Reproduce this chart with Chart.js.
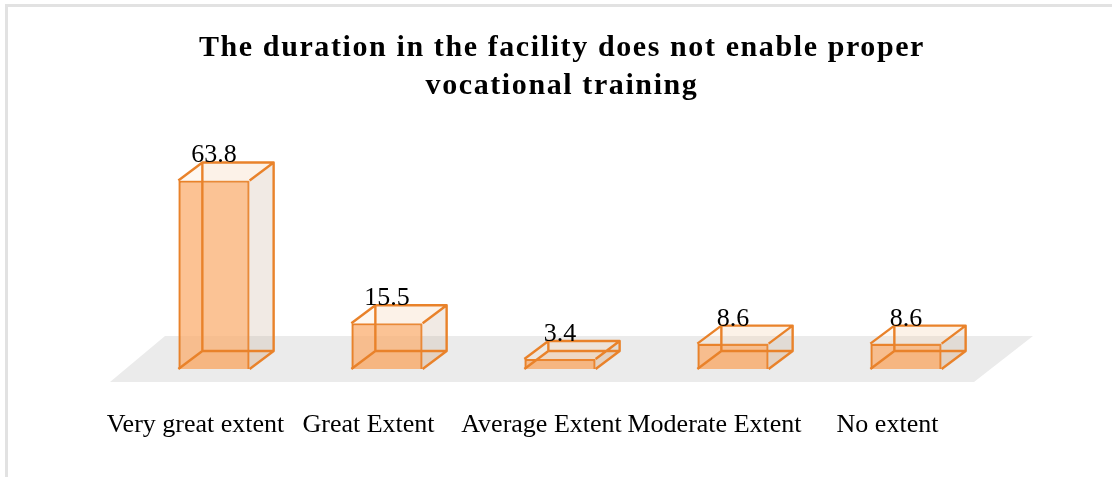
<!DOCTYPE html>
<html>
<head>
<meta charset="utf-8">
<script src="https://cdn.jsdelivr.net/npm/chart.js@4"></script>
<style>
html,body{margin:0;padding:0;background:#fff;overflow:hidden}
#wrap{position:absolute;left:0;top:0;width:1112px;height:477px}
#frameTop{position:absolute;left:5px;top:4px;width:1107px;height:3px;background:#e2e2e2}
#frameLeft{position:absolute;left:5px;top:4px;width:3px;height:473px;background:#e2e2e2}
</style>
</head>
<body>
<div id="wrap">
<canvas id="c" width="1112" height="477" style="display:block;width:1112px;height:477px;filter:blur(0.4px)"></canvas>
<div id="frameTop"></div><div id="frameLeft"></div>
</div>
<script>
const titleLines = ["The duration in the facility does not enable proper", "vocational training"];
const categories = ["Very great extent", "Great Extent", "Average Extent", "Moderate Extent", "No extent"];
const values = [63.8, 15.5, 3.4, 8.6, 8.6];
const valueLabels = ["63.8", "15.5", "3.4", "8.6", "8.6"];

const DX = 24, DY = -18;
const EDGE = "#E9822A";
const FONT = "'Liberation Serif', serif";

function poly(ctx, pts, fill, stroke) {
  ctx.beginPath();
  pts.forEach((p, i) => i ? ctx.lineTo(p[0], p[1]) : ctx.moveTo(p[0], p[1]));
  ctx.closePath();
  if (fill) { ctx.fillStyle = fill; ctx.fill(); }
  if (stroke) { ctx.strokeStyle = stroke; ctx.stroke(); }
}

const spacing = {
  id: "spacing",
  beforeDraw(chart) {
    const block = chart.titleBlock;
    if (!block || block._spaced) return;
    const draw = block.draw;
    block.draw = function (area) {
      const ctx = chart.ctx;
      ctx.save();
      ctx.letterSpacing = "1.6px";
      ctx.translate(2, 0);
      draw.call(this, area);
      ctx.restore();
      ctx.letterSpacing = "0px";
    };
    block._spaced = true;
  }
};

const floor = {
  id: "floor",
  beforeDatasetsDraw(chart) {
    const a = chart.chartArea, y0 = chart.scales.y.getPixelForValue(0);
    poly(chart.ctx, [
      [a.left - 17.5, y0 + 13],
      [a.right - 18.5, y0 + 13],
      [a.right + 40.5, y0 - 33],
      [a.left + 37.5, y0 - 33]
    ], "#ebebeb");
  }
};

const box3d = {
  id: "box3d",
  afterDatasetsDraw(chart) {
    const ctx = chart.ctx;
    const bars = chart.getDatasetMeta(0).data;
    ctx.save();
    ctx.lineWidth = 2.4;
    ctx.lineJoin = "round";
    bars.forEach((b, i) => {
      const l = b.x - b.width / 2, r = b.x + b.width / 2, t = b.y, d = b.base;
      poly(ctx, [[r, t], [r + DX, t + DY], [r + DX, d + DY], [r, d]], "rgba(170,160,150,0.17)");
      poly(ctx, [[l + DX, t + DY], [r + DX, t + DY], [r + DX, d + DY], [l + DX, d + DY]], "rgba(240,200,165,0.12)");
      poly(ctx, [[l, t], [l + DX, t + DY], [r + DX, t + DY], [r, t]], "rgba(250,215,180,0.18)");
      poly(ctx, [[l, d], [l + DX, d + DY], [r + DX, d + DY], [r, d]], "rgba(245,150,70,0.18)");
      ctx.strokeStyle = EDGE;
      ctx.beginPath();
      ctx.moveTo(l, d); ctx.lineTo(l + DX, d + DY); ctx.lineTo(r + DX, d + DY); ctx.lineTo(r, d);
      ctx.moveTo(l + DX, d + DY); ctx.lineTo(l + DX, t + DY);
      ctx.moveTo(l, t); ctx.lineTo(l + DX, t + DY); ctx.lineTo(r + DX, t + DY); ctx.lineTo(r, t);
      ctx.moveTo(r + DX, t + DY); ctx.lineTo(r + DX, d + DY);
      ctx.stroke();
      ctx.fillStyle = "#000";
      ctx.font = "26px " + FONT;
      ctx.textAlign = "center";
      ctx.textBaseline = "alphabetic";
      ctx.fillText(valueLabels[i], b.x, t - 18);
    });
    ctx.restore();
  }
};

new Chart(document.getElementById("c"), {
  type: "bar",
  data: {
    labels: categories,
    datasets: [{
      data: values,
      backgroundColor: "rgba(251,170,105,0.72)",
      borderColor: EDGE,
      borderWidth: 2.4,
      barPercentage: 0.412,
      categoryPercentage: 1
    }]
  },
  options: {
    responsive: false,
    animation: false,
    layout: { padding: { left: 127.5, right: 119.5, top: 0, bottom: 0 } },
    plugins: {
      legend: { display: false },
      tooltip: { enabled: false },
      title: {
        display: true,
        text: titleLines,
        fullSize: false,
        color: "#000",
        font: { family: FONT, size: 30, weight: "bold", lineHeight: "38px" },
        padding: { top: 29, bottom: 1 }
      }
    },
    scales: {
      x: {
        grid: { display: false },
        border: { display: false },
        afterFit(s) { s.height = 108; },
        ticks: {
          autoSkip: false, maxRotation: 0, minRotation: 0,
          color: "#000", padding: 33, labelOffset: -18.5,
          font: { family: FONT, size: 26 }
        }
      },
      y: { display: false, min: 0, max: 89 }
    }
  },
  plugins: [spacing, floor, box3d]
});
</script>
</body>
</html>
